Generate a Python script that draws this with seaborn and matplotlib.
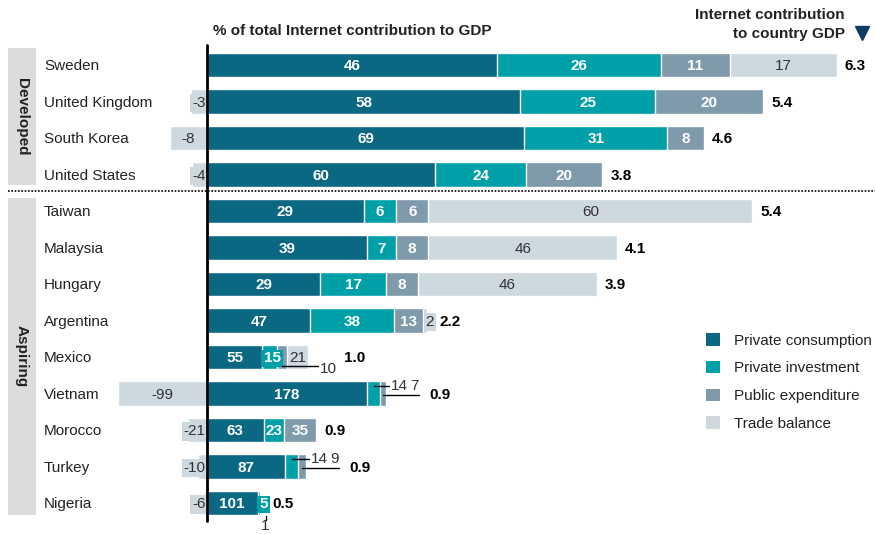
import matplotlib
matplotlib.use('Agg')
import matplotlib.pyplot as plt
from matplotlib.patches import Rectangle, Patch
import pandas as pd
import seaborn as sns

countries = ['Sweden', 'United Kingdom', 'South Korea', 'United States',
             'Taiwan', 'Malaysia', 'Hungary', 'Argentina', 'Mexico',
             'Vietnam', 'Morocco', 'Turkey', 'Nigeria']
consumption = [46, 58, 69, 60, 29, 39, 29, 47, 55, 178, 63, 87, 101]
investment = [26, 25, 31, 24, 6, 7, 17, 38, 15, 14, 23, 14, 5]
public_exp = [11, 20, 8, 20, 6, 8, 8, 13, 10, 7, 35, 9, 1]
trade = [17, -3, -8, -4, 60, 46, 46, 2, 21, -99, -21, -10, -6]
gdp_total = [6.3, 5.4, 4.6, 3.8, 5.4, 4.1, 3.9, 2.2, 1.0, 0.9, 0.9, 0.9, 0.5]
groups = ['Developed', 'Aspiring']
group_size = [4, 9]
series_names = ['Private consumption', 'Private investment',
                'Public expenditure', 'Trade balance']

colors = ['#0a6882', '#00a0a8', '#7f9aab', '#cdd8df']
navy = '#0f3a64'
txt = '#222222'

df = pd.DataFrame({'country': countries, 'cons': consumption, 'inv': investment,
                   'pub': public_exp, 'trade': trade, 'total': gdp_total})
# bar length = share of the contribution x country contribution (in GDP points)
for c in ['cons', 'inv', 'pub', 'trade']:
    df[c + '_w'] = df[c] * df['total'] / 100
df['c1'] = df['cons_w']
df['c2'] = df['c1'] + df['inv_w']
df['c3'] = df['c2'] + df['pub_w']
df['c4'] = df['c3'] + df['trade_w'].clip(lower=0)
df['neg'] = df['trade_w'].clip(upper=0)

sns.set_theme(style='white')
plt.rcParams['font.family'] = ['Liberation Sans', 'DejaVu Sans']

fig = plt.figure(figsize=(8.75, 5.34), dpi=100)
ax = fig.add_axes([0, 0, 1, 1])

bar_kw = dict(y='country', order=countries, orient='h', saturation=1, width=0.68,
              edgecolor='white', linewidth=1, errorbar=None, ax=ax)
sns.barplot(data=df, x='c4', color=colors[3], **bar_kw)
sns.barplot(data=df, x='c3', color=colors[2], **bar_kw)
sns.barplot(data=df, x='c2', color=colors[1], **bar_kw)
sns.barplot(data=df, x='c1', color=colors[0], **bar_kw)
sns.barplot(data=df, x='neg', color=colors[3], **bar_kw)

ax.set_xlim(-2.07, 6.68)
ax.set_ylim(12.85, -1.78)
ax.axis('off')

FS = 11
VA = 'center_baseline'
# placement for the segments too small to hold their label
special = {
    ('Mexico', 'inv'): 'boxed',
    ('Mexico', 'pub'): 'below_leader',
    ('Vietnam', 'inv'): 'upper_leader',
    ('Vietnam', 'pub'): 'lower_leader',
    ('Turkey', 'inv'): 'upper_leader',
    ('Turkey', 'pub'): 'lower_leader',
    ('Nigeria', 'inv'): 'boxed_right',
    ('Nigeria', 'pub'): 'below',
    ('Argentina', 'trade'): 'boxed_right',
}

for i, r in df.iterrows():
    y = i
    E = r['c4']
    total_x = E + 0.08
    segs = [('cons', 0, r['c1'], 0), ('inv', r['c1'], r['c2'], 1),
            ('pub', r['c2'], r['c3'], 2)]
    if r['trade'] >= 0:
        segs.append(('trade', r['c3'], r['c4'], 3))
    for key, s, e, k in segs:
        val = int(r[key])
        mode = special.get((r['country'], key))
        fc = 'white' if k < 3 else '#333333'
        fw = 'bold' if k < 3 else 'normal'
        mid = (s + e) / 2
        if mode is None:
            ax.text(mid, y, str(val), ha='center', va=VA, color=fc,
                    fontsize=FS, fontweight=fw, zorder=5)
        elif mode == 'boxed':
            ax.text(mid + 0.03, y, str(val), ha='center', va=VA, color=fc,
                    fontsize=FS, fontweight=fw, zorder=5,
                    bbox=dict(boxstyle='square,pad=0.12', fc=colors[k], ec='none'))
        elif mode == 'boxed_right':
            ax.text(E + 0.03, y, str(val), ha='center', va=VA, color=fc,
                    fontsize=FS, fontweight=fw, zorder=5,
                    bbox=dict(boxstyle='square,pad=0.12', fc=colors[k], ec='none'))
            total_x = E + 0.12
        elif mode == 'below_leader':
            ax.plot([mid, E + 0.10], [y + 0.25, y + 0.25], color='black', lw=1, zorder=6)
            ax.text(E + 0.12, y + 0.3, str(val), ha='left', va=VA,
                    color='#333333', fontsize=FS, zorder=6)
            total_x = E + 0.36
        elif mode == 'below':
            ax.plot([E + 0.05, E + 0.05], [y + 0.36, y + 0.46], color='black', lw=1)
            ax.text(E + 0.05, y + 0.6, str(val), ha='center', va=VA,
                    color='#333333', fontsize=FS)
        elif mode == 'upper_leader':
            ax.plot([mid, E + 0.03], [y - 0.21, y - 0.21], color='black', lw=1, zorder=6)
            ax.text(E + 0.05, y - 0.24, str(val), ha='left', va=VA,
                    color='#333333', fontsize=FS, zorder=6)
        elif mode == 'lower_leader':
            ax.plot([mid, E + 0.33], [y + 0.04, y + 0.04], color='black', lw=1, zorder=6)
            ax.text(E + 0.33, y - 0.24, str(val), ha='right', va=VA,
                    color='#333333', fontsize=FS, zorder=6)
            total_x = E + 0.43
    if r['trade'] < 0:
        w = -r['neg']
        lab = str(int(r['trade']))
        if len(lab) * 0.085 + 0.03 < w:
            ax.text(r['neg'] / 2, y, lab, ha='center', va=VA, color='#333333',
                    fontsize=FS, zorder=5)
        else:
            ax.text(-0.012, y, lab, ha='right', va=VA, color='#333333',
                    fontsize=FS, zorder=5,
                    bbox=dict(boxstyle='square,pad=0.15', fc=colors[3], ec='none'))
    ax.text(total_x, y, f'{r["total"]:.1f}', ha='left', va=VA, color='black',
            fontsize=FS, fontweight='bold')

# country names
for i, c in enumerate(countries):
    ax.text(-1.63, i, c, ha='left', va=VA, color=txt, fontsize=FS)

# group boxes
start = 0
for g, n in zip(groups, group_size):
    top = -0.47 if start == 0 else start - 0.36
    bot = start + n - 1 + (0.29 if start == 0 else 0.33)
    ax.add_patch(Rectangle((-1.99, top), 0.28, bot - top, fc='#dcdcdc', ec='none'))
    ax.text(-1.85, (top + bot) / 2, g, rotation=270, ha='center', va='center',
            fontsize=FS, fontweight='bold', color=txt)
    start += n

# separator between groups
ax.plot([-1.99, 6.68], [3.45, 3.45], color='black', lw=1.2, ls=(0, (1, 1)))

# zero line
ax.plot([0, 0], [-0.55, 12.49], color='black', lw=2, zorder=10)

# headers
ax.text(0.06, -0.96, '% of total Internet contribution to GDP', ha='left',
        va=VA, fontsize=FS, fontweight='bold', color=txt)
ax.text(6.38, -1.11, 'Internet contribution\nto country GDP', ha='right',
        va='center', fontsize=FS, fontweight='bold', color=txt,
        multialignment='right', linespacing=1.4)
ax.plot([6.55], [-0.88], marker='v', markersize=10, color=navy)

handles = [Patch(fc=c, ec='none') for c in colors]
fig.legend(handles, series_names, loc='upper left',
           bbox_to_anchor=(706 / 875, 1 - 333 / 534), frameon=False,
           fontsize=FS, handlelength=0.9, handleheight=0.9, handletextpad=0.9,
           labelspacing=0.86, borderpad=0, borderaxespad=0, labelcolor=txt)

fig.savefig('out.png', dpi=100)
